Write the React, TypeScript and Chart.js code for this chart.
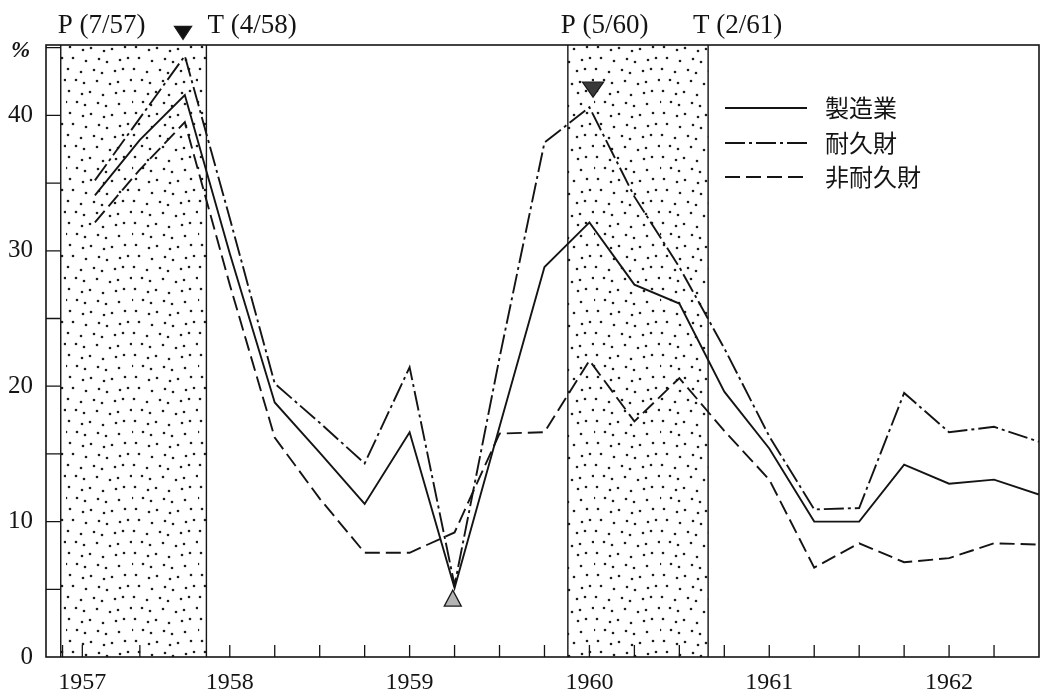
import React, { useEffect, useRef } from "react";
import { Chart, registerables } from "chart.js";
Chart.register(...registerables);

// ---- data ----
const quarters = [1957.25, 1957.5, 1957.75, 1958.0, 1958.25, 1958.5, 1958.75, 1959.0, 1959.25, 1959.5, 1959.75, 1960.0, 1960.25, 1960.5, 1960.75, 1961.0, 1961.25, 1961.5, 1961.75, 1962.0, 1962.25, 1962.5];
const manufacturing = [34.1, 38.2, 41.5, 29.8, 18.8, 15.1, 11.3, 16.6, 5.1, 17.0, 28.8, 32.1, 27.5, 26.1, 19.6, 15.4, 10.0, 10.0, 14.2, 12.8, 13.1, 12.0];
const durable = [35.2, 39.8, 44.4, 32.4, 20.2, 17.3, 14.3, 21.4, 5.3, 22.1, 38.0, 40.6, 34.0, 28.8, 22.8, 16.3, 10.9, 11.0, 19.5, 16.6, 17.0, 15.9];
const nondurable = [32.1, 36.0, 39.5, 27.5, 16.2, 11.7, 7.7, 7.7, 9.2, 16.5, 16.6, 21.9, 17.4, 20.6, 16.7, 13.1, 6.6, 8.4, 7.0, 7.3, 8.4, 8.3];
const seriesNames = ["製造業", "耐久財", "非耐久財"];

const yTickValues = [0, 10, 20, 30, 40];
const yMinorTickValues = [5, 10, 15, 20, 25, 30, 35, 40, 45];
const xTickValues = [1957.18, 1958, 1959, 1960, 1961, 1962];
const xTickLabels = ["1957", "1958", "1959", "1960", "1961", "1962"];
const xMinorTickValues = [1957.07, 1957.18, 1957.5, 1958, 1958.25, 1958.5, 1958.75, 1959, 1959.25, 1959.5, 1959.75, 1960, 1960.25, 1960.5, 1960.75, 1961, 1961.25, 1961.5, 1961.75, 1962, 1962.25];

const recessionStart = [1957.06, 1959.88];
const recessionEnd = [1957.87, 1960.66];
const peakLabels = ["P (7/57)", "P (5/60)"];
const troughLabels = ["T (4/58)", "T (2/61)"];

// turning-point markers: x, y, pointing down?
const markerX = [1957.74, 1960.02, 1959.24];
const markerY = [46.1, 41.9, 4.35];
const markerDown = [true, true, false];

const INK = "#141414";
const SERIF = '"Liberation Serif", "DejaVu Serif", serif';

function makeDotPattern(ctx: CanvasRenderingContext2D) {
  const tile = document.createElement("canvas");
  tile.width = 66;
  tile.height = 66;
  const t = tile.getContext("2d")!;
  t.fillStyle = "#1c1c1c";
  for (let i = 0; i < 6; i++) {
    for (let j = 0; j < 6; j++) {
      const jx = ((i * 7 + j * 3) % 5) - 2;
      const jy = ((i * 3 + j * 5) % 5) - 2;
      const x = (i * 11 + 4 + (j % 2) * 5 + jx + 66) % 66;
      const y = (j * 11 + 5 + jy + 66) % 66;
      t.beginPath();
      t.arc(x, y, 1.3, 0, Math.PI * 2);
      t.fill();
    }
  }
  return ctx.createPattern(tile, "repeat");
}

const markerSizes = [{ w: 17, h: 13 }, { w: 21, h: 15 }, { w: 17, h: 16 }];
const markerFill = ["#111", "#3a3a3a", "#b4b4b4"];

const decorPlugin = {
  id: "decor",
  beforeDatasetsDraw(chart: any) {
    const { ctx, chartArea: a, scales } = chart;
    const x = scales.x;
    ctx.save();
    const pat = makeDotPattern(ctx);
    for (let i = 0; i < recessionStart.length; i++) {
      const x0 = x.getPixelForValue(recessionStart[i]);
      const x1 = x.getPixelForValue(recessionEnd[i]);
      if (pat) {
        ctx.fillStyle = pat;
        ctx.fillRect(x0, a.top, x1 - x0, a.bottom - a.top);
      }
      ctx.strokeStyle = INK;
      ctx.lineWidth = 1.4;
      ctx.beginPath();
      ctx.moveTo(x0, a.top);
      ctx.lineTo(x0, a.bottom);
      ctx.moveTo(x1, a.top);
      ctx.lineTo(x1, a.bottom);
      ctx.stroke();
    }
    ctx.restore();
  },
  afterDraw(chart: any) {
    const { ctx, chartArea: a, scales } = chart;
    const x = scales.x;
    const y = scales.y;
    ctx.save();
    // frame
    ctx.strokeStyle = INK;
    ctx.lineWidth = 1.6;
    ctx.strokeRect(a.left, a.top, a.right - a.left, a.bottom - a.top);
    // inward ticks
    ctx.lineWidth = 1.3;
    ctx.beginPath();
    yMinorTickValues.forEach((v) => {
      const py = y.getPixelForValue(v);
      ctx.moveTo(a.left, py);
      ctx.lineTo(a.left + 14, py);
    });
    xMinorTickValues.forEach((v) => {
      const px = x.getPixelForValue(v);
      ctx.moveTo(px, a.bottom);
      ctx.lineTo(px, a.bottom - 12);
    });
    ctx.stroke();
    // markers
    markerX.forEach((mx, i) => {
      const px = x.getPixelForValue(mx);
      const py = y.getPixelForValue(markerY[i]);
      const { w, h } = markerSizes[i];
      ctx.beginPath();
      if (markerDown[i]) {
        ctx.moveTo(px - w / 2, py - h / 2);
        ctx.lineTo(px + w / 2, py - h / 2);
        ctx.lineTo(px, py + h / 2);
      } else {
        ctx.moveTo(px - w / 2, py + h / 2);
        ctx.lineTo(px + w / 2, py + h / 2);
        ctx.lineTo(px, py - h / 2);
      }
      ctx.closePath();
      ctx.fillStyle = markerFill[i];
      ctx.fill();
      ctx.strokeStyle = "#1a1a1a";
      ctx.lineWidth = 1.3;
      ctx.stroke();
    });
    // % unit
    ctx.fillStyle = INK;
    ctx.font = `italic bold 23px ${SERIF}`;
    ctx.textAlign = "left";
    ctx.textBaseline = "alphabetic";
    ctx.fillText("%", 11, 57);
    // P / T labels
    ctx.font = `27px ${SERIF}`;
    const peakOff = [-3, -7];
    const troughOff = [1, -15];
    for (let i = 0; i < peakLabels.length; i++) {
      ctx.fillText(peakLabels[i], x.getPixelForValue(recessionStart[i]) + peakOff[i], 33);
      ctx.fillText(troughLabels[i], x.getPixelForValue(recessionEnd[i]) + troughOff[i], 33);
    }
    // legend
    const ly = [108, 143, 177];
    chart.data.datasets.slice(0, 3).forEach((ds: any, i: number) => {
      ctx.strokeStyle = ds.borderColor;
      ctx.lineWidth = ds.borderWidth;
      ctx.setLineDash(ds.borderDash || []);
      ctx.beginPath();
      ctx.moveTo(725, ly[i]);
      ctx.lineTo(807, ly[i]);
      ctx.stroke();
      ctx.setLineDash([]);
      ctx.fillStyle = INK;
      ctx.font = '24px "Noto Sans CJK JP", sans-serif';
      ctx.textBaseline = "middle";
      ctx.fillText(ds.label, 825, ly[i]);
    });
    ctx.restore();
  },
};

export default function App() {
  const ref = useRef<HTMLCanvasElement>(null);
  useEffect(() => {
    const canvas = ref.current!;
    const lineStyle = { borderColor: INK, borderWidth: 1.9, pointRadius: 0, tension: 0, fill: false, borderJoinStyle: "miter" as const };
    const chart = new Chart(canvas, {
      type: "line",
      data: {
        datasets: [
          { label: seriesNames[0], data: quarters.map((q, i) => ({ x: q, y: manufacturing[i] })), ...lineStyle, borderDash: [] },
          { label: seriesNames[1], data: quarters.map((q, i) => ({ x: q, y: durable[i] })), ...lineStyle, borderDash: [20, 4, 3, 4] },
          { label: seriesNames[2], data: quarters.map((q, i) => ({ x: q, y: nondurable[i] })), ...lineStyle, borderDash: [15, 6] },
        ],
      },
      options: {
        animation: false,
        responsive: true,
        maintainAspectRatio: false,
        layout: { padding: { top: 45, right: 6, left: 0, bottom: 0 } },
        plugins: { legend: { display: false }, tooltip: { enabled: false } },
        scales: {
          x: {
            type: "linear",
            min: 1956.978,
            max: 1962.5,
            grid: { display: false, drawTicks: false },
            border: { display: false },
            afterFit: (s: any) => { s.height = 42; s.paddingLeft = 0; s.paddingRight = 0; },
            afterBuildTicks: (s: any) => { s.ticks = xTickValues.map((v) => ({ value: v })); },
            ticks: {
              autoSkip: false,
              maxRotation: 0,
              padding: 11,
              color: INK,
              font: { family: SERIF, size: 24 },
              callback: (_v: any, i: number) => xTickLabels[i],
            },
          },
          y: {
            type: "linear",
            min: 0,
            max: 45.2,
            grid: { display: false, drawTicks: false },
            border: { display: false },
            afterFit: (s: any) => { s.width = 46; s.paddingTop = 0; s.paddingBottom = 0; },
            afterBuildTicks: (s: any) => { s.ticks = yTickValues.map((v) => ({ value: v })); },
            ticks: {
              padding: 13,
              color: INK,
              font: { family: SERIF, size: 25 },
              callback: (v: any) => String(v),
            },
          },
        },
      },
      plugins: [decorPlugin],
    });
    return () => chart.destroy();
  }, []);
  return (
    <div style={{ position: "fixed", left: 0, top: 0, width: 1045, height: 699, background: "#fff" }}>
      <canvas ref={ref} />
    </div>
  );
}
